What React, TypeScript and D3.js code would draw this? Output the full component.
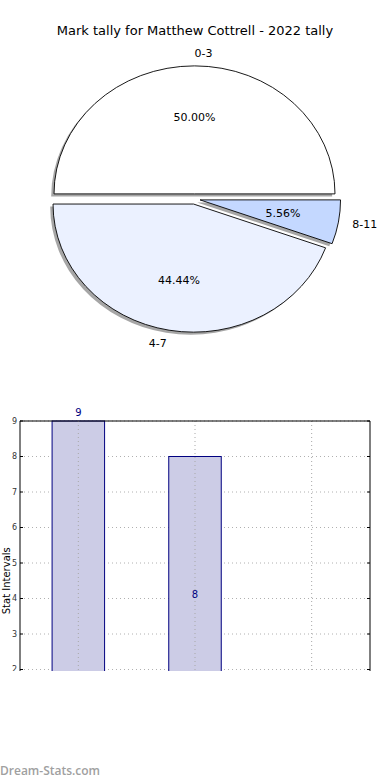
import React, { useEffect } from 'react';
import * as d3 from 'd3';

// tally per mark interval
const categories = ['0-3', '4-7', '8-11'];
const counts = [9, 8, 1];
const sliceColors = ['#ffffff', '#ebf1ff', '#c4d8ff'];
const yTicks = [2, 3, 4, 5, 6, 7, 8, 9];

const W = 390;
const H = 780;
const FONT = 'DejaVu Sans, sans-serif';

function Pie() {
  const cx = 194.5;
  const cy = 199;
  const rx = 140.5;
  const ry = 128;
  const explode = 0.04;

  const total = d3.sum(counts);
  // matplotlib style: start at east, go counter-clockwise
  const pie = d3
    .pie<number>()
    .sort(null)
    .startAngle(Math.PI / 2)
    .endAngle(Math.PI / 2 - 2 * Math.PI);
  const slices = pie(counts);
  const arc = d3.arc<d3.PieArcDatum<number>>().innerRadius(0).outerRadius(1);

  return (
    <g>
      {slices.map((s, i) => {
        const mid = (s.startAngle + s.endAngle) / 2;
        const ux = Math.sin(mid);
        const uy = -Math.cos(mid);
        const ox = cx + explode * rx * ux;
        const oy = cy + explode * ry * uy;
        const path = arc(s) || '';
        const labelX = ox + 1.1 * rx * ux;
        const labelY = oy + 1.1 * ry * uy;
        const pctX = ox + 0.6 * rx * ux;
        const pctY = oy + 0.6 * ry * uy;
        return (
          <g key={categories[i]}>
            <path
              d={path}
              transform={`translate(${ox - 0.02 * rx},${oy + 0.02 * ry}) scale(${rx},${ry})`}
              fill="#4d4d4d"
              opacity={0.5}
            />
            <path
              d={path}
              transform={`translate(${ox},${oy}) scale(${rx},${ry})`}
              fill={sliceColors[i]}
              stroke="#000"
              strokeWidth={0.9}
              vectorEffect="non-scaling-stroke"
            />
            <text
              x={labelX}
              y={labelY}
              dy="0.35em"
              textAnchor={ux > -1e-9 ? 'start' : 'end'}
              fontSize={11}
              fontFamily={FONT}
              fill="#000"
            >
              {categories[i]}
            </text>
            <text
              x={pctX}
              y={pctY}
              dy="0.35em"
              textAnchor="middle"
              fontSize={11}
              fontFamily={FONT}
              fill="#000"
            >
              {((counts[i] / total) * 100).toFixed(2)}%
            </text>
          </g>
        );
      })}
    </g>
  );
}

function Bars() {
  const left = 20;
  const right = 370;
  const top = 421;
  const bottom = 740.5;
  const clipY = 671;

  const x = d3.scaleLinear().domain([-0.5, categories.length - 0.5]).range([left, right]);
  const y = d3.scaleLinear().domain([0, 9]).range([bottom, top]);
  const barW = 0.45;
  const maxVal = d3.max(counts) ?? 0;

  return (
    <g>
      <defs>
        <clipPath id="barclip">
          <rect x={0} y={0} width={W} height={clipY} />
        </clipPath>
      </defs>
      <g clipPath="url(#barclip)">
        {yTicks.map((t) => (
          <line
            key={'gy' + t}
            x1={left}
            x2={right}
            y1={y(t)}
            y2={y(t)}
            stroke="#b0b0b0"
            strokeDasharray="1,3"
          />
        ))}
        {counts.map((v, i) => (
          <rect
            key={categories[i]}
            x={x(i - barW / 2)}
            y={y(v)}
            width={x(barW) - x(0)}
            height={y(0) - y(v)}
            fill="#cccce6"
            stroke="#000080"
            strokeWidth={1}
          />
        ))}
        {categories.map((c, i) => (
          <line
            key={'gx' + c}
            x1={x(i)}
            x2={x(i)}
            y1={top}
            y2={bottom}
            stroke="#a8a8a8"
            strokeDasharray="1,3"
          />
        ))}
        {/* spines */}
        <line x1={left} x2={right} y1={top} y2={top} stroke="#000" />
        <line x1={left} x2={left} y1={top} y2={bottom} stroke="#000" />
        <line x1={right} x2={right} y1={top} y2={bottom} stroke="#000" />
        {yTicks.map((t) => (
          <g key={'t' + t}>
            <line x1={left} x2={left + 3} y1={y(t)} y2={y(t)} stroke="#000" />
            <line x1={right - 3} x2={right} y1={y(t)} y2={y(t)} stroke="#000" />
            <text
              x={left - 3}
              y={y(t)}
              dy="0.35em"
              textAnchor="end"
              fontSize={8}
              fontFamily={FONT}
              fill="#333"
            >
              {t}
            </text>
          </g>
        ))}
        {counts.map((v, i) =>
          v >= 2 ? (
            <text
              key={'l' + i}
              x={x(i)}
              y={v === maxVal ? y(v) - 5 : y(v / 2) - 1}
              textAnchor="middle"
              fontSize={10}
              fontFamily={FONT}
              fill="#000080"
            >
              {v}
            </text>
          ) : null
        )}
      </g>
      <text
        transform={`translate(6,${(top + bottom) / 2}) rotate(-90)`}
        textAnchor="middle"
        dy="0.35em"
        fontSize={10}
        fontFamily={FONT}
        fill="#000"
      >
        Stat Intervals
      </text>
    </g>
  );
}

export default function App() {
  useEffect(() => {
    document.body.style.margin = '0';
  }, []);
  return (
    <svg width={W} height={H} style={{ display: 'block', background: '#fff' }}>
      <rect width={W} height={H} fill="#fff" />
      <text x={195} y={30} dy="0.35em" textAnchor="middle" fontSize={13} fontFamily={FONT} fill="#000">
        Mark tally for Matthew Cottrell - 2022 tally
      </text>
      <Pie />
      <Bars />
      <text x={0} y={775} fontSize={12} fontFamily="Open Sans, sans-serif" fontWeight={600} fill="#a0a0a0">
        Dream-Stats.com
      </text>
    </svg>
  );
}
